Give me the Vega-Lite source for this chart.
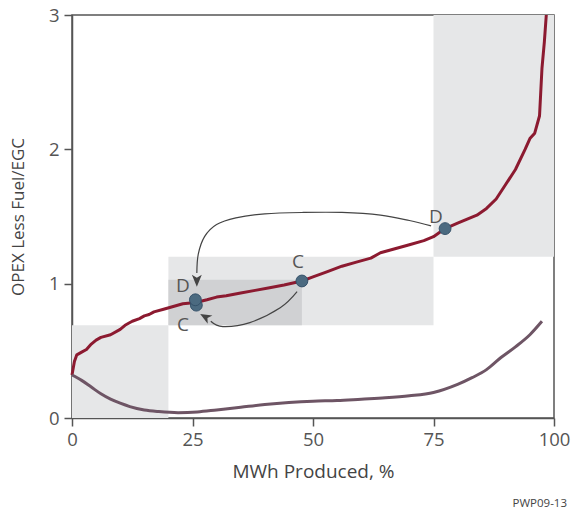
{
  "$schema": "https://vega.github.io/schema/vega-lite/v6.json",
  "autosize": "none",
  "width": 482,
  "height": 403,
  "padding": {"left": 72, "top": 15, "right": 17, "bottom": 90},
  "background": "white",
  "config": {
    "font": "Open Sans",
    "view": {"stroke": "#555555", "strokeWidth": 1.5},
    "axis": {
      "grid": false,
      "domainColor": "#555555",
      "domainWidth": 1.5,
      "tickColor": "#555555",
      "tickWidth": 1.5,
      "tickSize": 8,
      "labelColor": "#555555",
      "labelFontSize": 18.5,
      "labelFont": "Open Sans",
      "labelFlush": false,
      "titleColor": "#444444",
      "titleFontSize": 19,
      "titleFont": "Open Sans",
      "titleFontWeight": "normal"
    }
  },
  "title": {
    "text": "PWP09-13",
    "orient": "bottom",
    "anchor": "end",
    "frame": "group",
    "fontSize": 11.5,
    "fontWeight": "normal",
    "color": "#444444",
    "font": "Open Sans",
    "offset": 16,
    "dx": 13
  },
  "datasets": {
    "rects": [
      {"x": 0, "x2": 20, "y": 0, "y2": 0.69, "shade": "light"},
      {"x": 20, "x2": 75, "y": 0.69, "y2": 1.2, "shade": "light"},
      {"x": 75, "x2": 100, "y": 1.2, "y2": 3, "shade": "light"},
      {"x": 20, "x2": 47.7, "y": 0.69, "y2": 1.03, "shade": "dark"}
    ],
    "curves": [
      {"series": "opex", "x": 0, "y": 0.32},
      {"series": "opex", "x": 0.5, "y": 0.42},
      {"series": "opex", "x": 1, "y": 0.47},
      {"series": "opex", "x": 2, "y": 0.49},
      {"series": "opex", "x": 3, "y": 0.51},
      {"series": "opex", "x": 4, "y": 0.55},
      {"series": "opex", "x": 5, "y": 0.58},
      {"series": "opex", "x": 6, "y": 0.6},
      {"series": "opex", "x": 8, "y": 0.62},
      {"series": "opex", "x": 10, "y": 0.66},
      {"series": "opex", "x": 11, "y": 0.69},
      {"series": "opex", "x": 12.5, "y": 0.72},
      {"series": "opex", "x": 14, "y": 0.74},
      {"series": "opex", "x": 15, "y": 0.76},
      {"series": "opex", "x": 16, "y": 0.77},
      {"series": "opex", "x": 17, "y": 0.79},
      {"series": "opex", "x": 19, "y": 0.81},
      {"series": "opex", "x": 21, "y": 0.83},
      {"series": "opex", "x": 23, "y": 0.85},
      {"series": "opex", "x": 25.7, "y": 0.86},
      {"series": "opex", "x": 28, "y": 0.88},
      {"series": "opex", "x": 30, "y": 0.9},
      {"series": "opex", "x": 32, "y": 0.91},
      {"series": "opex", "x": 35, "y": 0.93},
      {"series": "opex", "x": 38, "y": 0.95},
      {"series": "opex", "x": 41, "y": 0.97},
      {"series": "opex", "x": 44, "y": 0.99},
      {"series": "opex", "x": 47.7, "y": 1.02},
      {"series": "opex", "x": 50, "y": 1.05},
      {"series": "opex", "x": 53, "y": 1.09},
      {"series": "opex", "x": 56, "y": 1.13},
      {"series": "opex", "x": 59, "y": 1.16},
      {"series": "opex", "x": 62, "y": 1.19},
      {"series": "opex", "x": 64, "y": 1.23},
      {"series": "opex", "x": 67, "y": 1.26},
      {"series": "opex", "x": 70, "y": 1.29},
      {"series": "opex", "x": 73, "y": 1.32},
      {"series": "opex", "x": 75, "y": 1.35},
      {"series": "opex", "x": 77.4, "y": 1.41},
      {"series": "opex", "x": 80, "y": 1.45},
      {"series": "opex", "x": 82, "y": 1.48},
      {"series": "opex", "x": 84, "y": 1.51},
      {"series": "opex", "x": 86, "y": 1.56},
      {"series": "opex", "x": 88, "y": 1.63},
      {"series": "opex", "x": 90, "y": 1.74},
      {"series": "opex", "x": 92, "y": 1.85},
      {"series": "opex", "x": 94, "y": 2.0},
      {"series": "opex", "x": 95, "y": 2.08},
      {"series": "opex", "x": 96, "y": 2.12},
      {"series": "opex", "x": 97, "y": 2.25},
      {"series": "opex", "x": 97.5, "y": 2.6},
      {"series": "opex", "x": 98, "y": 2.8},
      {"series": "opex", "x": 98.4, "y": 3.0},
      {"series": "other", "x": 0, "y": 0.32},
      {"series": "other", "x": 2, "y": 0.28},
      {"series": "other", "x": 4, "y": 0.23},
      {"series": "other", "x": 6, "y": 0.18},
      {"series": "other", "x": 8, "y": 0.14},
      {"series": "other", "x": 10, "y": 0.11},
      {"series": "other", "x": 12, "y": 0.085},
      {"series": "other", "x": 15, "y": 0.06},
      {"series": "other", "x": 18, "y": 0.048},
      {"series": "other", "x": 22, "y": 0.04},
      {"series": "other", "x": 26, "y": 0.045},
      {"series": "other", "x": 30, "y": 0.06},
      {"series": "other", "x": 35, "y": 0.08},
      {"series": "other", "x": 40, "y": 0.1},
      {"series": "other", "x": 45, "y": 0.115},
      {"series": "other", "x": 50, "y": 0.125},
      {"series": "other", "x": 55, "y": 0.13},
      {"series": "other", "x": 60, "y": 0.14},
      {"series": "other", "x": 65, "y": 0.15},
      {"series": "other", "x": 70, "y": 0.165},
      {"series": "other", "x": 75, "y": 0.19},
      {"series": "other", "x": 80, "y": 0.25},
      {"series": "other", "x": 83, "y": 0.3},
      {"series": "other", "x": 86, "y": 0.36},
      {"series": "other", "x": 89, "y": 0.45},
      {"series": "other", "x": 92, "y": 0.53},
      {"series": "other", "x": 95, "y": 0.62},
      {"series": "other", "x": 97.5, "y": 0.72}
    ],
    "arrows": [
      {"arrow": "a1", "i": 1, "x": 74.5, "y": 1.43},
      {"arrow": "a1", "i": 2, "x": 70, "y": 1.47},
      {"arrow": "a1", "i": 3, "x": 64, "y": 1.51},
      {"arrow": "a1", "i": 4, "x": 56, "y": 1.53},
      {"arrow": "a1", "i": 5, "x": 48, "y": 1.53},
      {"arrow": "a1", "i": 6, "x": 40, "y": 1.52},
      {"arrow": "a1", "i": 7, "x": 34, "y": 1.49},
      {"arrow": "a1", "i": 8, "x": 30, "y": 1.44},
      {"arrow": "a1", "i": 9, "x": 27.5, "y": 1.35},
      {"arrow": "a1", "i": 10, "x": 26.2, "y": 1.22},
      {"arrow": "a1", "i": 11, "x": 25.9, "y": 1.08},
      {"arrow": "a2", "i": 1, "x": 46.7, "y": 0.94},
      {"arrow": "a2", "i": 2, "x": 43.2, "y": 0.82},
      {"arrow": "a2", "i": 3, "x": 36.9, "y": 0.71},
      {"arrow": "a2", "i": 4, "x": 31.3, "y": 0.68},
      {"arrow": "a2", "i": 5, "x": 28.8, "y": 0.72}
    ],
    "heads": [
      {"arrow": "a1", "x": 25.9, "y": 1.03},
      {"arrow": "a2", "x": 27.8, "y": 0.75}
    ],
    "markers": [
      {"x": 47.7, "y": 1.02},
      {"x": 25.8, "y": 0.84},
      {"x": 25.6, "y": 0.88},
      {"x": 77.4, "y": 1.41}
    ],
    "labels": [
      {"x": 46.9, "y": 1.16, "label": "C"},
      {"x": 23.0, "y": 0.985, "label": "D"},
      {"x": 23.0, "y": 0.69, "label": "C"},
      {"x": 75.5, "y": 1.5, "label": "D"}
    ]
  },
  "encoding": {
    "x": {
      "field": "x",
      "type": "quantitative",
      "scale": {"domain": [0, 100], "nice": false},
      "axis": {"values": [0, 25, 50, 75, 100], "title": "MWh Produced, %", "labelPadding": 4, "titlePadding": 14}
    },
    "y": {
      "field": "y",
      "type": "quantitative",
      "scale": {"domain": [0, 3], "nice": false},
      "axis": {"values": [0, 1, 2, 3], "title": "OPEX Less Fuel/EGC", "titleFontSize": 17, "labelPadding": 5, "titlePadding": 21}
    }
  },
  "layer": [
    {
      "data": {"name": "rects"},
      "mark": {"type": "rect"},
      "encoding": {
        "x2": {"field": "x2"},
        "y2": {"field": "y2"},
        "color": {
          "field": "shade",
          "type": "nominal",
          "scale": {"domain": ["light", "dark"], "range": ["#e6e7e8", "#d0d1d3"]},
          "legend": null
        }
      }
    },
    {
      "data": {"name": "curves"},
      "mark": {"type": "line", "strokeWidth": 3, "interpolate": "linear", "strokeJoin": "round"},
      "transform": [{"filter": "datum.series === 'opex'"}],
      "encoding": {"color": {"value": "#8c1a30"}}
    },
    {
      "data": {"name": "curves"},
      "mark": {"type": "line", "strokeWidth": 3, "interpolate": "monotone"},
      "transform": [{"filter": "datum.series === 'other'"}],
      "encoding": {"color": {"value": "#6e5565"}}
    },
    {
      "data": {"name": "arrows"},
      "mark": {"type": "line", "strokeWidth": 1.2, "interpolate": "cardinal", "color": "#444444"},
      "encoding": {
        "detail": {"field": "arrow"},
        "order": {"field": "i", "type": "quantitative"}
      }
    },
    {
      "data": {"name": "heads"},
      "transform": [{"filter": "datum.arrow === 'a1'"}],
      "mark": {"type": "point", "shape": "M0,-1L0.7,0.7L0,0.25L-0.7,0.7Z", "filled": true, "color": "#444444", "size": 200, "angle": 180, "opacity": 1}
    },
    {
      "data": {"name": "heads"},
      "transform": [{"filter": "datum.arrow === 'a2'"}],
      "mark": {"type": "point", "shape": "M0,-1L0.7,0.7L0,0.25L-0.7,0.7Z", "filled": true, "color": "#444444", "size": 180, "angle": 300, "opacity": 1}
    },
    {
      "data": {"name": "markers"},
      "mark": {"type": "circle", "size": 140, "fill": "#4b6a80", "stroke": "#35526a", "strokeWidth": 1, "opacity": 1}
    },
    {
      "data": {"name": "labels"},
      "mark": {"type": "text", "fontSize": 19, "color": "#555555", "font": "Open Sans", "align": "center", "baseline": "middle"},
      "encoding": {"text": {"field": "label"}}
    }
  ]
}
